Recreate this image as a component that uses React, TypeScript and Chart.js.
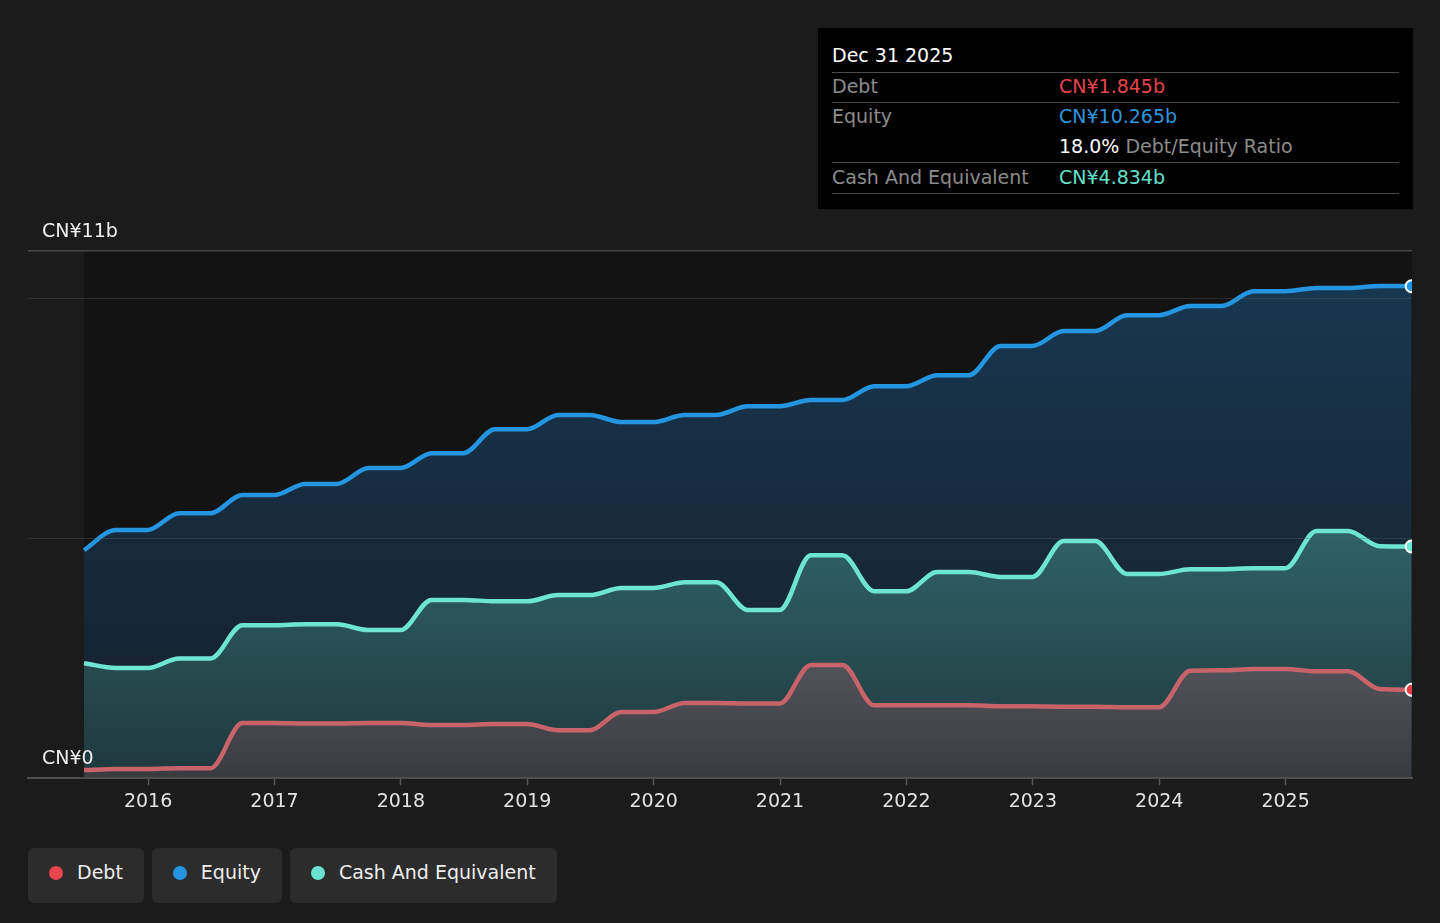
import { useEffect, useRef } from "react";
import { Chart, registerables, type ChartConfiguration, type Plugin } from "chart.js";

Chart.register(...registerables);

// quarter ends, Jun 2015 .. Dec 2025
const periods = [
  "2015-06-30", "2015-09-30", "2015-12-31",
  "2016-03-31", "2016-06-30", "2016-09-30", "2016-12-31",
  "2017-03-31", "2017-06-30", "2017-09-30", "2017-12-31",
  "2018-03-31", "2018-06-30", "2018-09-30", "2018-12-31",
  "2019-03-31", "2019-06-30", "2019-09-30", "2019-12-31",
  "2020-03-31", "2020-06-30", "2020-09-30", "2020-12-31",
  "2021-03-31", "2021-06-30", "2021-09-30", "2021-12-31",
  "2022-03-31", "2022-06-30", "2022-09-30", "2022-12-31",
  "2023-03-31", "2023-06-30", "2023-09-30", "2023-12-31",
  "2024-03-31", "2024-06-30", "2024-09-30", "2024-12-31",
  "2025-03-31", "2025-06-30", "2025-09-30", "2025-12-31",
];

// CN¥ billions
const debt = [
  0.17, 0.19, 0.19, 0.21, 0.21, 1.15, 1.15, 1.14, 1.14, 1.15, 1.15,
  1.11, 1.11, 1.13, 1.13, 1.0, 1.0, 1.38, 1.38, 1.57, 1.57, 1.56, 1.56,
  2.36, 2.36, 1.52, 1.52, 1.52, 1.52, 1.5, 1.5, 1.49, 1.49, 1.48, 1.48,
  2.24, 2.25, 2.28, 2.28, 2.23, 2.23, 1.86, 1.845,
];

const equity = [
  4.76, 5.18, 5.18, 5.53, 5.53, 5.91, 5.91, 6.14, 6.14, 6.47, 6.47,
  6.78, 6.78, 7.28, 7.28, 7.58, 7.58, 7.43, 7.43, 7.58, 7.58, 7.76, 7.76,
  7.89, 7.89, 8.18, 8.18, 8.41, 8.41, 9.02, 9.02, 9.33, 9.33, 9.66, 9.66,
  9.85, 9.85, 10.16, 10.16, 10.23, 10.23, 10.27, 10.265,
];

const cash = [
  2.4, 2.3, 2.3, 2.5, 2.5, 3.19, 3.19, 3.21, 3.21, 3.09, 3.09,
  3.72, 3.72, 3.69, 3.69, 3.82, 3.82, 3.97, 3.97, 4.09, 4.09, 3.51, 3.51,
  4.65, 4.65, 3.9, 3.9, 4.3, 4.3, 4.2, 4.2, 4.95, 4.95, 4.26, 4.26,
  4.36, 4.36, 4.38, 4.38, 5.16, 5.16, 4.84, 4.834,
];

const yearTicks = [2016, 2017, 2018, 2019, 2020, 2021, 2022, 2023, 2024, 2025];
const yTicks = [0, 5, 10, 11];
const yTickLabels: Record<number, string> = { 0: "CN¥0", 11: "CN¥11b" };

const FONT = "'DejaVu Sans', sans-serif";

function toYear(d: string) {
  const [y, m, day] = d.split("-").map(Number);
  const start = Date.UTC(y, 0, 1);
  const end = Date.UTC(y + 1, 0, 1);
  return y + (Date.UTC(y, m - 1, day) - start) / (end - start);
}

const xs = periods.map(toYear);
const pts = (vals: number[]) => vals.map((v, i) => ({ x: xs[i], y: v }));

const lastOnly = (r: number) => (ctx: any) => (ctx.dataIndex === periods.length - 1 ? r : 0);

function gradient(stops: [number, string][]) {
  return (ctx: any) => {
    const area = ctx.chart.chartArea;
    if (!area) return stops[0][1];
    const g = ctx.chart.ctx.createLinearGradient(0, area.top, 0, area.bottom);
    stops.forEach(([p, c]) => g.addColorStop(p, c));
    return g;
  };
}

// darker panel behind the span that has data
const dataPanel: Plugin<"line"> = {
  id: "dataPanel",
  beforeDraw(chart) {
    const { ctx, chartArea } = chart;
    const left = chart.scales.x.getPixelForValue(xs[0]);
    ctx.save();
    ctx.fillStyle = "#131313";
    ctx.fillRect(left, chartArea.top, chartArea.right - left, chartArea.bottom - chartArea.top);
    ctx.restore();
  },
};

function DebtEquityChart() {
  const canvasRef = useRef<HTMLCanvasElement | null>(null);
  const chartRef = useRef<Chart | null>(null);

  useEffect(() => {
    const el = canvasRef.current;
    if (!el) return;
    chartRef.current?.destroy();

    const common = {
      borderWidth: 4.5,
      cubicInterpolationMode: "monotone" as const,
      fill: "origin" as const,
      pointRadius: lastOnly(6),
      pointHoverRadius: lastOnly(6),
      pointBorderColor: "#ffffff",
      pointBorderWidth: 2,
    };

    const cfg: ChartConfiguration<"line"> = {
      type: "line",
      data: {
        datasets: [
          {
            ...common,
            label: "Debt",
            data: pts(debt),
            order: 1,
            borderColor: "#c8636a",
            pointBackgroundColor: "#e23d42",
            backgroundColor: gradient([
              [0.74, "#57585f"],
              [1, "#393b41"],
            ]),
          },
          {
            ...common,
            label: "Cash And Equivalent",
            data: pts(cash),
            order: 2,
            borderColor: "#6de5d1",
            pointBackgroundColor: "#6de5d1",
            backgroundColor: gradient([
              [0.5, "#306569"],
              [1, "#1f383c"],
            ]),
          },
          {
            ...common,
            label: "Equity",
            data: pts(equity),
            order: 3,
            borderColor: "#2495e0",
            pointBackgroundColor: "#2495e0",
            backgroundColor: gradient([
              [0, "#173853"],
              [0.55, "#172a3b"],
              [1, "#161f2a"],
            ]),
          },
        ],
      },
      options: {
        responsive: false,
        animation: false,
        devicePixelRatio: 1,
        layout: { padding: { left: 0, right: 28, top: 251, bottom: 105 } },
        plugins: {
          legend: { display: false },
          tooltip: { enabled: false },
        },
        scales: {
          x: {
            type: "linear",
            min: 2015.05,
            max: 2026.0,
            afterBuildTicks: (axis) => {
              axis.ticks = yearTicks.map((v) => ({ value: v }));
            },
            ticks: {
              color: "#e2e2e2",
              font: { family: FONT, size: 19 },
              padding: 5,
              maxRotation: 0,
              autoSkip: false,
              callback: (v) => String(v),
            },
            grid: {
              drawOnChartArea: false,
              drawTicks: true,
              tickLength: 7,
              tickColor: "#555555",
              tickWidth: 1.5,
            },
            border: { display: true, color: "#4e4e4e", width: 2, z: 1 },
          },
          y: {
            min: 0,
            max: 11,
            afterBuildTicks: (axis) => {
              axis.ticks = yTicks.map((v) => ({ value: v }));
            },
            ticks: {
              mirror: true,
              padding: 14,
              labelOffset: -19,
              color: "#eeeeee",
              font: { family: FONT, size: 19 },
              z: 2,
              callback: (v) => yTickLabels[Number(v)] ?? "",
            },
            grid: {
              z: 1,
              drawTicks: false,
              lineWidth: (ctx) => (ctx.tick?.value === 11 ? 1.5 : 1),
              color: (ctx) =>
                ctx.tick?.value === 11
                  ? "#474747"
                  : ctx.tick?.value === 0
                  ? "rgba(0,0,0,0)"
                  : "rgba(95,95,95,0.35)",
            },
            border: { display: false },
          },
        },
      },
      plugins: [dataPanel],
    };

    chartRef.current = new Chart(el, cfg);
    return () => {
      chartRef.current?.destroy();
      chartRef.current = null;
    };
  }, []);

  return <canvas ref={canvasRef} width={1440} height={923} style={{ position: "absolute", left: 0, top: 0 }} />;
}

const rowStyle = {
  display: "flex",
  height: 30,
  alignItems: "center",
  paddingBottom: 3,
  boxSizing: "border-box" as const,
};
const labelStyle = { width: 227, color: "#8c8c8c" };

function InfoBox() {
  return (
    <div
      style={{
        position: "absolute",
        left: 818,
        top: 28,
        width: 595,
        height: 181,
        background: "#000000",
        boxSizing: "border-box",
        padding: "0 14px",
        fontFamily: FONT,
        fontSize: 19,
      }}
    >
      <div style={{ height: 44, display: "flex", alignItems: "center", paddingTop: 10, boxSizing: "border-box", color: "#ffffff" }}>
        Dec 31 2025
      </div>
      <div style={{ borderTop: "1px solid #4a4a4a" }}>
        <div style={{ ...rowStyle, height: 29 }}>
          <span style={labelStyle}>Debt</span>
          <span style={{ color: "#e8444b" }}>CN¥1.845b</span>
        </div>
      </div>
      <div style={{ borderTop: "1px solid #4a4a4a" }}>
        <div style={{ ...rowStyle, height: 29 }}>
          <span style={labelStyle}>Equity</span>
          <span style={{ color: "#2f95dc" }}>CN¥10.265b</span>
        </div>
        <div style={rowStyle}>
          <span style={labelStyle}></span>
          <span style={{ color: "#ffffff" }}>
            18.0% <span style={{ color: "#8c8c8c" }}>Debt/Equity Ratio</span>
          </span>
        </div>
      </div>
      <div style={{ borderTop: "1px solid #4a4a4a", borderBottom: "1px solid #4a4a4a" }}>
        <div style={rowStyle}>
          <span style={labelStyle}>Cash And Equivalent</span>
          <span style={{ color: "#64e1ca" }}>CN¥4.834b</span>
        </div>
      </div>
    </div>
  );
}

const legendItems = [
  { label: "Debt", color: "#e8464c" },
  { label: "Equity", color: "#2394df" },
  { label: "Cash And Equivalent", color: "#6ce3d1" },
];

function Legend() {
  return (
    <div style={{ position: "absolute", left: 28, top: 848, display: "flex", gap: 8, fontFamily: FONT, fontSize: 19 }}>
      {legendItems.map((it) => (
        <div
          key={it.label}
          style={{
            height: 55,
            boxSizing: "border-box",
            display: "flex",
            alignItems: "center",
            padding: "0 21px 7px 21px",
            background: "#2c2c2c",
            borderRadius: 6,
            color: "#eeeeee",
          }}
        >
          <span style={{ width: 14, height: 14, borderRadius: 7, background: it.color, marginRight: 14, marginTop: 2 }} />
          {it.label}
        </div>
      ))}
    </div>
  );
}

export default function App() {
  useEffect(() => {
    document.body.style.margin = "0";
    document.body.style.background = "#1b1b1b";
  }, []);
  return (
    <div style={{ position: "absolute", left: 0, top: 0, width: 1440, height: 923, background: "#1b1b1b", overflow: "hidden" }}>
      <DebtEquityChart />
      <InfoBox />
      <Legend />
    </div>
  );
}
